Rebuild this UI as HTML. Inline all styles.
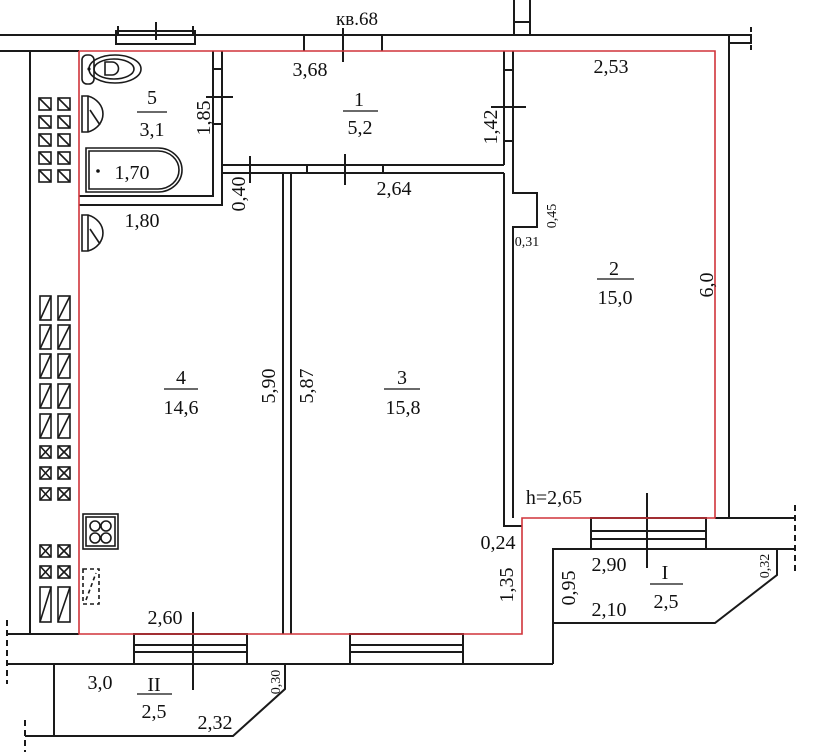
<!DOCTYPE html>
<html><head><meta charset="utf-8"><style>
html,body{margin:0;padding:0;background:#fff;width:820px;height:752px;overflow:hidden}
svg text{font-family:"Liberation Serif",serif;fill:#111}
</style></head><body>
<svg width="820" height="752" viewBox="0 0 820 752" xmlns="http://www.w3.org/2000/svg">
<g stroke="#1a1a1a" stroke-width="2" fill="none">
<line x1="0" y1="35" x2="729" y2="35"/>
<line x1="0" y1="51" x2="79" y2="51"/>
<line x1="729" y1="35" x2="729" y2="518"/>
<polyline points="729,35 751,35 751,43 729,43"/>
<line x1="751" y1="27" x2="751" y2="52" stroke-dasharray="5,4"/>
<rect x="116" y="31" width="79" height="13"/>
<line x1="156" y1="22" x2="156" y2="40"/>
<line x1="118" y1="26" x2="118" y2="36"/>
<line x1="193" y1="26" x2="193" y2="36"/>
<line x1="514" y1="0" x2="514" y2="35"/><line x1="530" y1="0" x2="530" y2="35"/><line x1="514" y1="22" x2="530" y2="22"/>
<line x1="304" y1="35" x2="304" y2="51"/><line x1="343" y1="28" x2="343" y2="62"/><line x1="382" y1="35" x2="382" y2="51"/>
<line x1="30" y1="51" x2="30" y2="634"/>
<polyline points="79,196 213,196 213,51"/>
<polyline points="79,205 222,205 222,51"/>
<line x1="213" y1="69" x2="222" y2="69"/><line x1="213" y1="124" x2="222" y2="124"/>
<line x1="206" y1="97" x2="233" y2="97"/>
<line x1="222" y1="165" x2="504" y2="165"/>
<line x1="222" y1="173" x2="504" y2="173"/>
<line x1="250" y1="156" x2="250" y2="183"/><line x1="345" y1="154" x2="345" y2="185"/>
<line x1="307" y1="165" x2="307" y2="173"/><line x1="383" y1="165" x2="383" y2="173"/>
<line x1="283" y1="173" x2="283" y2="634"/><line x1="291" y1="173" x2="291" y2="634"/>
<line x1="504" y1="51" x2="504" y2="165"/>
<polyline points="504,173 504,526 522,526"/>
<polyline points="513,51 513,193 537,193 537,227 513,227 513,518"/>
<line x1="504" y1="70" x2="513" y2="70"/><line x1="504" y1="141" x2="513" y2="141"/>
<line x1="491" y1="107" x2="526" y2="107"/>
<line x1="715" y1="518" x2="795" y2="518"/>
<rect x="591" y="518" width="115" height="31"/>
<line x1="591" y1="531" x2="706" y2="531"/><line x1="591" y1="539" x2="706" y2="539"/>
<line x1="647" y1="493" x2="647" y2="568"/>
<line x1="795" y1="505" x2="795" y2="572" stroke-dasharray="6,4"/>
<polyline points="795,549 777,549 777,575 715,623 553,623"/>
<line x1="706" y1="549" x2="777" y2="549"/>
<polyline points="591,549 553,549 553,664"/>
<line x1="7" y1="634" x2="79" y2="634"/>
<line x1="7" y1="664" x2="553" y2="664"/>
<line x1="7" y1="620" x2="7" y2="684" stroke-dasharray="6,4"/>
<rect x="134" y="634" width="113" height="30"/>
<line x1="134" y1="645" x2="247" y2="645"/><line x1="134" y1="652" x2="247" y2="652"/>
<line x1="193" y1="612" x2="193" y2="690"/>
<rect x="350" y="634" width="113" height="30"/>
<line x1="350" y1="645" x2="463" y2="645"/><line x1="350" y1="652" x2="463" y2="652"/>
<polyline points="54,664 54,736"/>
<polyline points="25,736 233,736 285,689 285,664"/>
<line x1="25" y1="720" x2="25" y2="752" stroke-dasharray="6,4"/>
</g>
<g stroke="#d0343a" stroke-width="1.6" fill="none">
<polyline points="79,51 715,51 715,518 522,518 522,634 79,634 79,51"/>
</g>
<g stroke="#1a1a1a" stroke-width="1.6" fill="none">
<g id="sq">
<rect x="39" y="98" width="12" height="12"/><line x1="39" y1="98" x2="51" y2="110"/>
<rect x="58" y="98" width="12" height="12"/><line x1="58" y1="98" x2="70" y2="110"/>
</g>
<use href="#sq" y="18"/><use href="#sq" y="36"/><use href="#sq" y="54"/><use href="#sq" y="72"/>
<g id="tr">
<rect x="40" y="296" width="11" height="24"/><line x1="40" y1="320" x2="51" y2="296"/>
<rect x="58" y="296" width="12" height="24"/><line x1="58" y1="320" x2="70" y2="296"/>
</g>
<use href="#tr" y="29"/><use href="#tr" y="58"/><use href="#tr" y="88"/><use href="#tr" y="118"/>
<g id="cx">
<rect x="40" y="446" width="11" height="12"/><line x1="40" y1="446" x2="51" y2="458"/><line x1="51" y1="446" x2="40" y2="458"/>
<rect x="58" y="446" width="12" height="12"/><line x1="58" y1="446" x2="70" y2="458"/><line x1="70" y1="446" x2="58" y2="458"/>
</g>
<use href="#cx" y="21"/><use href="#cx" y="42"/><use href="#cx" y="99"/><use href="#cx" y="120"/>
<rect x="40" y="587" width="11" height="35"/><line x1="40" y1="622" x2="51" y2="587"/>
<rect x="58" y="587" width="12" height="35"/><line x1="58" y1="622" x2="70" y2="587"/>
<rect x="82" y="55" width="12" height="29" rx="5"/>
<ellipse cx="115" cy="69" rx="26" ry="14"/><ellipse cx="114" cy="69" rx="20" ry="10"/>
<path d="M105,62 h7 a6,6 0 0 1 0,13 h-7 z"/>
<path d="M82,96 h6 a22,19 0 0 1 0,36 h-6 z"/><line x1="88" y1="96" x2="88" y2="132"/>
<line x1="90" y1="110" x2="100" y2="125"/>
<path d="M82,215 h6 a22,19 0 0 1 0,36 h-6 z"/><line x1="88" y1="215" x2="88" y2="251"/>
<line x1="90" y1="229" x2="100" y2="244"/>
<path d="M86,148 h72 a24,22 0 0 1 0,44 h-72 z"/>
<path d="M89,151 h69 a21,19 0 0 1 0,38 h-69 z"/>
<rect x="83" y="514" width="35" height="35"/><rect x="86" y="517" width="29" height="29"/>
<circle cx="95" cy="526" r="5"/><circle cx="106" cy="526" r="5"/><circle cx="95" cy="538" r="5"/><circle cx="106" cy="538" r="5"/>
<rect x="83" y="569" width="16" height="35" stroke-dasharray="4,3"/><line x1="86" y1="600" x2="96" y2="573" stroke-dasharray="4,3"/>
</g>
<circle cx="89" cy="69" r="1.6" fill="#111"/><circle cx="98" cy="171" r="1.8" fill="#111"/>
<g font-size="20" text-anchor="middle">
<text x="357" y="25" font-size="19">кв.68</text>
<text x="310" y="76">3,68</text>
<text x="611" y="73">2,53</text>
<text x="152" y="104">5</text><line x1="137" y1="112" x2="167" y2="112" stroke="#111" stroke-width="1.2"/><text x="152" y="136">3,1</text>
<text x="359" y="106">1</text><line x1="343" y1="111" x2="378" y2="111" stroke="#111" stroke-width="1.2"/><text x="360" y="134">5,2</text>
<text x="132" y="179">1,70</text>
<text x="142" y="227">1,80</text>
<text x="394" y="195">2,64</text>
<text x="614" y="275">2</text><line x1="597" y1="279" x2="634" y2="279" stroke="#111" stroke-width="1.2"/><text x="615" y="304">15,0</text>
<text x="181" y="384">4</text><line x1="164" y1="389" x2="198" y2="389" stroke="#111" stroke-width="1.2"/><text x="181" y="414">14,6</text>
<text x="402" y="384">3</text><line x1="384" y1="389" x2="420" y2="389" stroke="#111" stroke-width="1.2"/><text x="403" y="414">15,8</text>
<text x="554" y="504">h=2,65</text>
<text x="498" y="549">0,24</text>
<text x="609" y="571">2,90</text>
<text x="609" y="616">2,10</text>
<text x="665" y="579">I</text><line x1="650" y1="584" x2="683" y2="584" stroke="#111" stroke-width="1.2"/><text x="666" y="608">2,5</text>
<text x="165" y="624">2,60</text>
<text x="100" y="689">3,0</text>
<text x="154" y="691">II</text><line x1="137" y1="694" x2="172" y2="694" stroke="#111" stroke-width="1.2"/><text x="154" y="718">2,5</text>
<text x="215" y="729">2,32</text>
<text transform="translate(210,118) rotate(-90)">1,85</text>
<text transform="translate(245,194) rotate(-90)">0,40</text>
<text transform="translate(497,127) rotate(-90)">1,42</text>
<text transform="translate(275,386) rotate(-90)">5,90</text>
<text transform="translate(313,386) rotate(-90)">5,87</text>
<text transform="translate(713,285) rotate(-90)">6,0</text>
<text transform="translate(513,585) rotate(-90)">1,35</text>
<text transform="translate(575,588) rotate(-90)">0,95</text>
</g>
<g font-size="14" text-anchor="middle">
<text x="527" y="246">0,31</text>
<text transform="translate(556,216) rotate(-90)">0,45</text>
<text transform="translate(769,566) rotate(-90)">0,32</text>
<text transform="translate(280,682) rotate(-90)">0,30</text>
</g>
</svg>
</body></html>
